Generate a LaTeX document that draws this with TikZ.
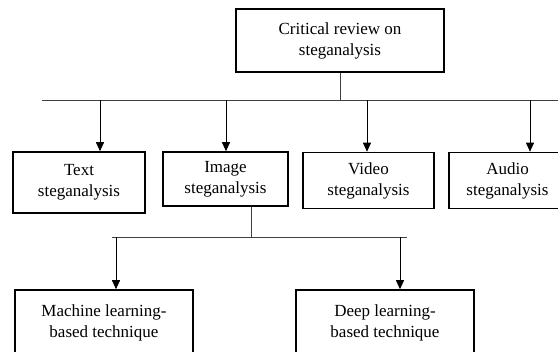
\documentclass[tikz,border=0pt]{standalone}
\usepackage{fontspec}
\setmainfont{Liberation Serif}
\usetikzlibrary{arrows.meta}

\begin{document}
\begin{tikzpicture}[x=1pt,y=-1pt,
    box/.style={draw,line width=1.6pt,inner sep=0pt,align=center,font=\fontsize{17}{21}\selectfont},
    link/.style={line width=0.9pt,black!75},
    down/.style={line width=0.9pt,-{Triangle[width=8pt,length=9pt]}}]
  \clip (0,0) rectangle (558,352);
  % boxes
  \node[box,minimum width=208pt,minimum height=63pt] (review) at (340,40.5) {Critical review on\\steganalysis};
  \node[box,minimum width=132pt,minimum height=61pt] (textsa) at (79,182.5) {Text\\steganalysis};
  \node[box,minimum width=125pt,minimum height=54pt] (imagesa) at (225.5,179) {Image\\steganalysis};
  \node[box,minimum width=131pt,minimum height=56pt] (videosa) at (368.5,180.5) {Video\\steganalysis};
  \node[box,minimum width=117pt,minimum height=56pt] (audiosa) at (507.5,180.5) {Audio\\steganalysis};
  \node[box,minimum width=178pt,minimum height=66pt] (mlbased) at (104,323) {Machine learning-\\based technique};
  \node[box,minimum width=178pt,minimum height=66pt] (dlbased) at (385,323) {Deep learning-\\based technique};
  % first level
  \coordinate (busL) at (42,100);
  \coordinate (busR) at (565,100);
  \coordinate (tText) at (100,100);
  \coordinate (tImage) at (226,100);
  \coordinate (tVideo) at (367,100);
  \coordinate (tAudio) at (530,100);
  \draw[link] (review.south) -- (review.south |- busL);
  \draw[link] (busL) -- (busR);
  \draw[down] (tText) -- (tText |- textsa.north);
  \draw[down] (tImage) -- (tImage |- imagesa.north);
  \draw[down] (tVideo) -- (tVideo |- videosa.north);
  \draw[down] (tAudio) -- (tAudio |- audiosa.north);
  % second level
  \coordinate (subL) at (112,237);
  \coordinate (subR) at (407,237);
  \coordinate (stem) at (251,237);
  \coordinate (tML) at (116,237);
  \coordinate (tDL) at (400,237);
  \draw[link] (stem |- imagesa.south) -- (stem);
  \draw[link] (subL) -- (subR);
  \draw[down] (tML) -- (tML |- mlbased.north);
  \draw[down] (tDL) -- (tDL |- dlbased.north);
\end{tikzpicture}
\end{document}
